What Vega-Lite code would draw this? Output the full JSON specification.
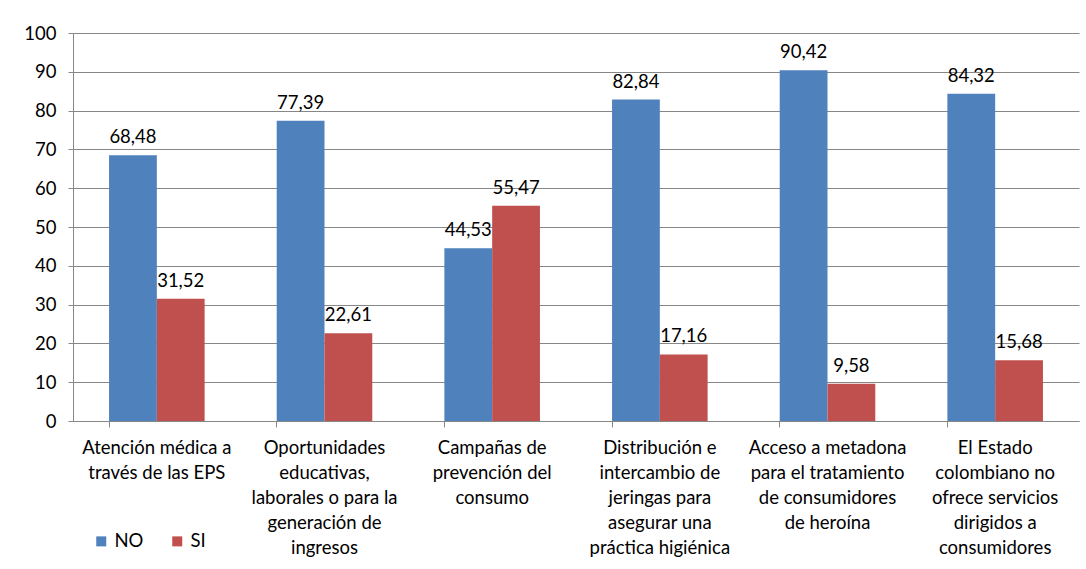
{
  "$schema": "https://vega.github.io/schema/vega-lite/v6.json",
  "autosize": "none",
  "padding": {"left": 73, "top": 33, "right": 7, "bottom": 148},
  "width": 1006,
  "height": 388,
  "background": "white",
  "config": {
    "font": "Lato",
    "view": {"stroke": null},
    "locale": {"number": {"decimal": ",", "thousands": ".", "grouping": [3], "currency": ["", ""]}}
  },
  "data": {
    "values": [
      {"cat": "Atención médica a|través de las EPS", "serie": "NO", "valor": 68.48},
      {"cat": "Atención médica a|través de las EPS", "serie": "SI", "valor": 31.52},
      {"cat": "Oportunidades|educativas,|laborales o para la|generación de|ingresos", "serie": "NO", "valor": 77.39},
      {"cat": "Oportunidades|educativas,|laborales o para la|generación de|ingresos", "serie": "SI", "valor": 22.61},
      {"cat": "Campañas de|prevención del|consumo", "serie": "NO", "valor": 44.53},
      {"cat": "Campañas de|prevención del|consumo", "serie": "SI", "valor": 55.47},
      {"cat": "Distribución e|intercambio de|jeringas para|asegurar una|práctica higiénica", "serie": "NO", "valor": 82.84},
      {"cat": "Distribución e|intercambio de|jeringas para|asegurar una|práctica higiénica", "serie": "SI", "valor": 17.16},
      {"cat": "Acceso a metadona|para el tratamiento|de consumidores|de heroína", "serie": "NO", "valor": 90.42},
      {"cat": "Acceso a metadona|para el tratamiento|de consumidores|de heroína", "serie": "SI", "valor": 9.58},
      {"cat": "El Estado|colombiano no|ofrece servicios|dirigidos a|consumidores", "serie": "NO", "valor": 84.32},
      {"cat": "El Estado|colombiano no|ofrece servicios|dirigidos a|consumidores", "serie": "SI", "valor": 15.68}
    ]
  },
  "encoding": {
    "x": {
      "field": "cat",
      "type": "nominal",
      "sort": null,
      "title": null,
      "scale": {"paddingInner": 0.43, "paddingOuter": 0.215},
      "axis": {
        "labelAngle": 0,
        "labelExpr": "split(datum.label, '|')",
        "labelFont": "Lato",
        "labelFontSize": 18.5,
        "labelColor": "#000000",
        "labelLineHeight": 25,
        "labelPadding": 11,
        "labelBaseline": "top",
        "labelLimit": 0,
        "bandPosition": 0,
        "tickSize": 6,
        "tickColor": "#878787",
        "domainColor": "#878787",
        "grid": false
      }
    },
    "xOffset": {"field": "serie", "type": "nominal", "sort": ["NO", "SI"]},
    "y": {
      "field": "valor",
      "type": "quantitative",
      "title": null,
      "scale": {"domain": [0, 100], "nice": false},
      "axis": {
        "values": [0, 10, 20, 30, 40, 50, 60, 70, 80, 90, 100],
        "labelFont": "Lato",
        "labelFontSize": 18.5,
        "labelColor": "#000000",
        "labelPadding": 12,
        "tickSize": 5,
        "tickColor": "#878787",
        "domainColor": "#878787",
        "gridColor": "#878787",
        "gridWidth": 1
      }
    }
  },
  "layer": [
    {
      "mark": {"type": "bar"},
      "encoding": {
        "color": {
          "field": "serie",
          "type": "nominal",
          "sort": ["NO", "SI"],
          "scale": {"domain": ["NO", "SI"], "range": ["#4F81BD", "#C0504D"]},
          "legend": {
            "title": null,
            "orient": "none",
            "legendX": 19,
            "legendY": 499,
            "direction": "horizontal",
            "symbolType": "square",
            "symbolSize": 100,
            "symbolStrokeWidth": 0,
            "labelFont": "Lato",
            "labelFontSize": 18.5,
            "labelColor": "#000000",
            "columnPadding": 24,
            "labelOffset": 4
          }
        }
      }
    },
    {
      "mark": {"type": "text", "baseline": "bottom", "dy": -8, "font": "Lato", "fontSize": 18.5, "color": "#000000"},
      "encoding": {
        "text": {"field": "valor", "type": "quantitative", "format": ".2f"}
      }
    }
  ]
}
